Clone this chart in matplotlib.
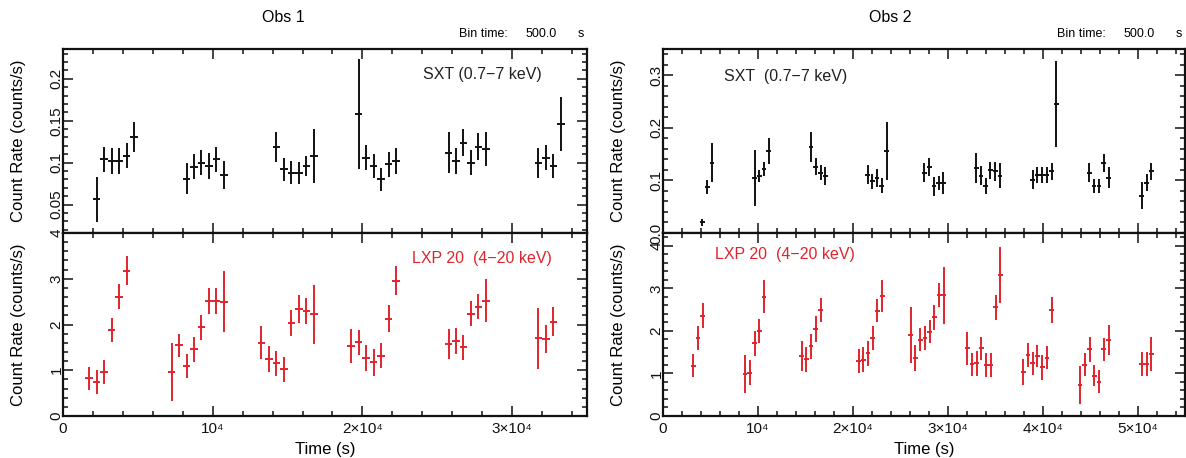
import matplotlib
matplotlib.use("Agg")
import matplotlib.pyplot as plt
from matplotlib.ticker import MultipleLocator, FixedLocator, FixedFormatter

plt.rcParams['font.family'] = ['Liberation Sans', 'DejaVu Sans']

# ---------------- data ----------------
# Obs 1, SXT (0.7-7 keV)
t1_sxt = [2250, 2750, 3250, 3750, 4250, 4750,
          8250, 8750, 9250, 9750, 10250, 10750,
          14250, 14750, 15250, 15750, 16250, 16750,
          19750, 20250, 20750, 21250, 21750, 22250,
          25750, 26250, 26750, 27250, 27750, 28250,
          31750, 32250, 32750, 33250]
r1_sxt = [0.056, 0.104, 0.102, 0.102, 0.108, 0.131,
          0.081, 0.095, 0.100, 0.096, 0.104, 0.085,
          0.119, 0.092, 0.088, 0.088, 0.096, 0.108,
          0.158, 0.106, 0.096, 0.080, 0.098, 0.102,
          0.112, 0.102, 0.124, 0.100, 0.119, 0.116,
          0.100, 0.106, 0.096, 0.146]
e1_sxt = [0.027, 0.015, 0.015, 0.015, 0.015, 0.018,
          0.019, 0.015, 0.015, 0.015, 0.015, 0.017,
          0.018, 0.014, 0.014, 0.013, 0.012, 0.032,
          0.066, 0.015, 0.014, 0.014, 0.015, 0.016,
          0.024, 0.016, 0.016, 0.015, 0.016, 0.020,
          0.018, 0.015, 0.014, 0.032]

# Obs 1, LXP 20 (4-20 keV)
t1_lxp = [1750, 2250, 2750, 3250, 3750, 4250,
          7250, 7750, 8250, 8750, 9250, 9750, 10250, 10750,
          13250, 13750, 14250, 14750, 15250, 15750, 16250, 16750,
          19250, 19750, 20250, 20750, 21250, 21750, 22250,
          25750, 26250, 26750, 27250, 27750, 28250,
          31750, 32250, 32750]
r1_lxp = [0.82, 0.75, 0.96, 1.88, 2.61, 3.18,
          0.96, 1.55, 1.09, 1.46, 1.94, 2.52, 2.52, 2.50,
          1.60, 1.24, 1.15, 1.02, 2.03, 2.34, 2.30, 2.22,
          1.53, 1.61, 1.27, 1.17, 1.32, 2.13, 2.96,
          1.57, 1.64, 1.50, 2.24, 2.39, 2.52,
          1.70, 1.68, 2.06]
e1_lxp = [0.26, 0.26, 0.27, 0.27, 0.28, 0.32,
          0.63, 0.25, 0.27, 0.27, 0.27, 0.28, 0.28, 0.66,
          0.36, 0.28, 0.28, 0.27, 0.29, 0.30, 0.28, 0.64,
          0.37, 0.28, 0.28, 0.29, 0.27, 0.29, 0.32,
          0.33, 0.29, 0.28, 0.28, 0.28, 0.47,
          0.67, 0.30, 0.32]

# Obs 2, SXT (0.7-7 keV)
t2_sxt = [4150, 4650, 5150,
          9650, 10150, 10650, 11150,
          15600, 16100, 16600, 17100,
          21550, 22050, 22550, 23050, 23550,
          27550, 28050, 28550, 29050, 29550,
          33000, 33500, 34000, 34500, 35000, 35500,
          38950, 39450, 39950, 40450, 40950, 41450,
          44900, 45400, 45950, 46450, 46950,
          50450, 50950, 51450]
r2_sxt = [0.020, 0.087, 0.134,
          0.105, 0.108, 0.122, 0.156,
          0.164, 0.126, 0.115, 0.109,
          0.111, 0.098, 0.105, 0.090, 0.156,
          0.115, 0.125, 0.089, 0.095, 0.095,
          0.124, 0.109, 0.089, 0.119, 0.117, 0.109,
          0.101, 0.111, 0.111, 0.111, 0.117, 0.245,
          0.115, 0.090, 0.089, 0.133, 0.105,
          0.071, 0.096, 0.117]
e2_sxt = [0.006, 0.013, 0.037,
          0.053, 0.011, 0.014, 0.024,
          0.029, 0.016, 0.015, 0.017,
          0.018, 0.014, 0.017, 0.014, 0.055,
          0.018, 0.017, 0.018, 0.014, 0.021,
          0.028, 0.018, 0.015, 0.016, 0.018, 0.024,
          0.018, 0.015, 0.015, 0.015, 0.016, 0.082,
          0.018, 0.013, 0.013, 0.017, 0.020,
          0.026, 0.016, 0.017]

# Obs 2, LXP 20 (4-20 keV)
t2_lxp = [3200, 3700, 4200,
          8650, 9150, 9650, 10150, 10650,
          14600, 15100, 15600, 16100, 16600,
          20600, 21100, 21600, 22100, 22600, 23100,
          26100, 26600, 27100, 27600, 28100, 28600, 29100, 29600,
          32050, 32550, 33050, 33550, 34050, 34550, 35050, 35550,
          37950, 38450, 38950, 39450, 39950, 40450, 40950,
          43950, 44450, 44950, 45450, 45950, 46450, 46950,
          50450, 50950, 51450]
r2_lxp = [1.18, 1.84, 2.36,
          0.99, 1.02, 1.71, 2.00, 2.80,
          1.41, 1.33, 1.64, 2.04, 2.49,
          1.29, 1.32, 1.47, 1.83, 2.47, 2.82,
          1.90, 1.36, 1.79, 1.83, 1.98, 2.32, 2.84, 2.84,
          1.59, 1.22, 1.24, 1.59, 1.20, 1.20, 2.55, 3.31,
          1.04, 1.43, 1.24, 1.41, 1.14, 1.37, 2.49,
          0.73, 1.20, 1.57, 0.95, 0.81, 1.57, 1.79,
          1.22, 1.22, 1.45]
e2_lxp = [0.27, 0.28, 0.29,
          0.45, 0.29, 0.29, 0.28, 0.39,
          0.35, 0.29, 0.29, 0.30, 0.29,
          0.29, 0.29, 0.29, 0.28, 0.27, 0.37,
          0.65, 0.30, 0.27, 0.28, 0.27, 0.29, 0.29, 0.67,
          0.38, 0.27, 0.29, 0.27, 0.29, 0.29, 0.29, 0.65,
          0.31, 0.28, 0.27, 0.26, 0.29, 0.27, 0.31,
          0.45, 0.27, 0.29, 0.25, 0.27, 0.27, 0.36,
          0.29, 0.29, 0.40]

half_bin = 250.0  # 500 s bins

x_ticks1 = [0, 10000, 20000, 30000]
x_labels1 = ['0', '10⁴', '2×10⁴', '3×10⁴']
x_ticks2 = [0, 10000, 20000, 30000, 40000, 50000]
x_labels2 = ['0', '10⁴', '2×10⁴', '3×10⁴', '4×10⁴', '5×10⁴']

BLACK = '#111111'
RED = '#e0242c'

# ---------------- layout ----------------
W, H = 1186, 458
fig = plt.figure(figsize=(W / 100, H / 100), dpi=100)


def rect(l, r, top, bot):
    return [l / W, 1 - bot / H, (r - l) / W, (bot - top) / H]


def style(ax, xmax, xticks, xlabels, show_x, ymaj, ymin, width_px):
    ax.set_xlim(0, xmax)
    ax.xaxis.set_major_locator(FixedLocator(xticks))
    ax.xaxis.set_minor_locator(MultipleLocator(2000))
    ax.yaxis.set_major_locator(MultipleLocator(ymaj))
    ax.yaxis.set_minor_locator(MultipleLocator(ymin))
    if show_x:
        ax.xaxis.set_major_formatter(FixedFormatter(xlabels))
    else:
        ax.tick_params(axis='x', labelbottom=False)
    ax.tick_params(which='both', direction='in', top=True, right=True,
                   labelsize=11, width=1.1, colors='#111111')
    ax.tick_params(which='major', length=7)
    ax.tick_params(which='minor', length=3.5)
    ax.tick_params(axis='y', pad=-0.3)
    ax.tick_params(axis='x', pad=4)
    for sp in ax.spines.values():
        sp.set_linewidth(1.6)
        sp.set_color('#111111')
    ax.set_ylabel('Count Rate (counts/s)', fontsize=12)
    ax.yaxis.set_label_coords(-37.0 / width_px, 0.5)


def ebar(ax, t, r, e, c):
    ax.errorbar(t, r, xerr=half_bin, yerr=e, fmt='none', ecolor=c,
                elinewidth=1.4, capsize=0)


# Obs 1
ax1t = fig.add_axes(rect(63, 587, 49, 233))
ax1b = fig.add_axes(rect(63, 587, 233, 416))
ebar(ax1t, t1_sxt, r1_sxt, e1_sxt, BLACK)
ebar(ax1b, t1_lxp, r1_lxp, e1_lxp, RED)
ax1t.set_ylim(0.016, 0.2356)
ax1b.set_ylim(0, 4)
style(ax1t, 35000, x_ticks1, x_labels1, False, 0.05, 0.01, 524)
style(ax1b, 35000, x_ticks1, x_labels1, True, 1, 0.2, 524)
ax1t.set_yticks([0.05, 0.1, 0.15, 0.2])
ax1t.set_yticklabels(['0.05', '0.1', '0.15', '0.2'])
ax1b.set_xlabel('Time (s)', fontsize=12, labelpad=4.5)
ax1t.text(0.80, 0.86, 'SXT (0.7−7 keV)', transform=ax1t.transAxes,
          fontsize=11.5, color='#222222', ha='center', va='center')
ax1b.text(0.80, 0.858, 'LXP 20  (4−20 keV)', transform=ax1b.transAxes,
          fontsize=11.5, color=RED, ha='center', va='center')

# Obs 2
ax2t = fig.add_axes(rect(663, 1185, 49, 233))
ax2b = fig.add_axes(rect(663, 1185, 233, 416))
ebar(ax2t, t2_sxt, r2_sxt, e2_sxt, BLACK)
ebar(ax2b, t2_lxp, r2_lxp, e2_lxp, RED)
ax2t.set_ylim(0, 0.35)
ax2b.set_ylim(0, 4.3)
style(ax2t, 55000, x_ticks2, x_labels2, False, 0.1, 0.02, 522)
style(ax2b, 55000, x_ticks2, x_labels2, True, 1, 0.2, 522)
ax2b.set_xlabel('Time (s)', fontsize=12, labelpad=4.5)
ax2t.text(0.234, 0.85, 'SXT  (0.7−7 keV)', transform=ax2t.transAxes,
          fontsize=11.5, color='#222222', ha='center', va='center')
ax2b.text(0.233, 0.88, 'LXP 20  (4−20 keV)', transform=ax2b.transAxes,
          fontsize=11.5, color=RED, ha='center', va='center')

for ax in (ax1t, ax1b, ax2t, ax2b):
    for lab in ax.get_yticklabels():
        lab.set_rotation(90)
        lab.set_va('center')

# headers
for r, cx, name in ((587, 283, 'Obs 1'), (1185, 890, 'Obs 2')):
    fig.text(cx / W, 1 - 17 / H, name, fontsize=11.5, ha='center', va='center')
    fig.text((r - 128) / W, 1 - 34 / H, 'Bin time:', fontsize=9, ha='left', va='center')
    fig.text((r - 61) / W, 1 - 34 / H, '500.0', fontsize=9, ha='left', va='center')
    fig.text((r - 9) / W, 1 - 34 / H, 's', fontsize=9, ha='left', va='center')

fig.savefig('out.png', dpi=100, facecolor='white')
